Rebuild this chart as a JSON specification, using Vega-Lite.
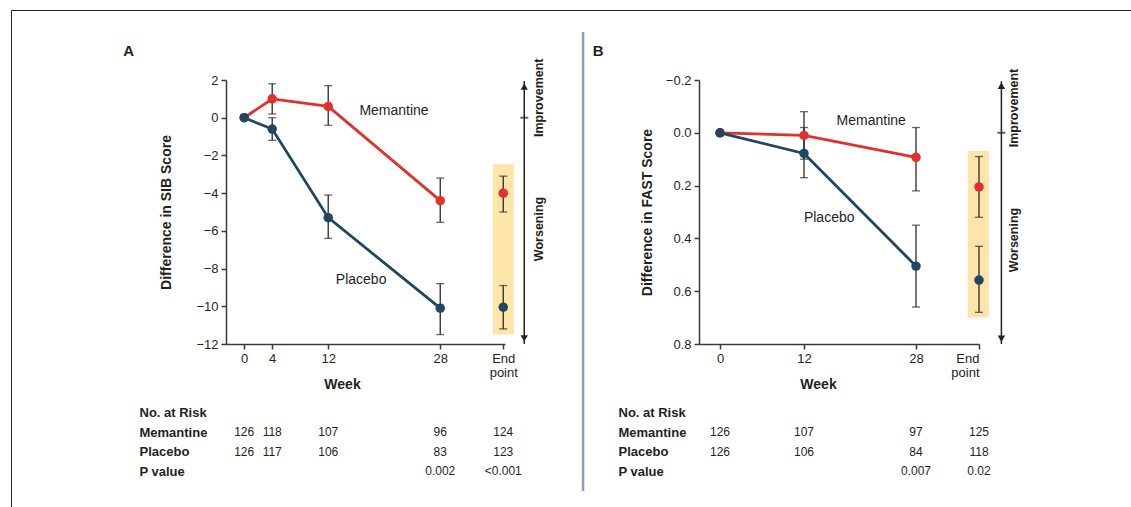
{
  "$schema": "https://vega.github.io/schema/vega-lite/v6.json",
  "padding": {"left": 10, "top": 9, "right": 0, "bottom": 0},
  "autosize": {"type": "pad"},
  "background": "white",
  "bounds": "flush",
  "columns": 2,
  "spacing": {"row": 59, "column": 194},
  "config": {
    "font": "Liberation Sans",
    "view": {"stroke": null},
    "axis": {
      "labelFont": "Liberation Sans", "titleFont": "Liberation Sans",
      "labelColor": "#231f20", "titleColor": "#231f20",
      "domainColor": "#3a3a3a", "tickColor": "#3a3a3a",
      "domainWidth": 1.5, "tickWidth": 1.5, "grid": false, "labelOverlap": false,
      "labelFontSize": 13, "titleFontSize": 14, "titleFontWeight": "bold"
    },
    "text": {"color": "#231f20", "font": "Liberation Sans"}
  },
  "datasets": {
    "seriesA": [
      {"group": "Memantine", "week": 0, "value": 0, "lo": null, "hi": null},
      {"group": "Memantine", "week": 4, "value": 1.0, "lo": 0.2, "hi": 1.8},
      {"group": "Memantine", "week": 12, "value": 0.6, "lo": -0.4, "hi": 1.7},
      {"group": "Memantine", "week": 28, "value": -4.4, "lo": -5.55, "hi": -3.2},
      {"group": "Memantine", "week": 37, "value": -4.0, "lo": -5.0, "hi": -3.1},
      {"group": "Placebo", "week": 0, "value": 0, "lo": null, "hi": null},
      {"group": "Placebo", "week": 4, "value": -0.6, "lo": -1.2, "hi": 0.0},
      {"group": "Placebo", "week": 12, "value": -5.3, "lo": -6.4, "hi": -4.1},
      {"group": "Placebo", "week": 28, "value": -10.1, "lo": -11.5, "hi": -8.8},
      {"group": "Placebo", "week": 37, "value": -10.05, "lo": -11.2, "hi": -8.9}
    ],
    "seriesB": [
      {"group": "Memantine", "week": 0, "value": 0, "lo": null, "hi": null},
      {"group": "Memantine", "week": 12, "value": 0.01, "lo": -0.08, "hi": 0.1},
      {"group": "Memantine", "week": 28, "value": 0.093, "lo": -0.02, "hi": 0.22},
      {"group": "Memantine", "week": 37, "value": 0.205, "lo": 0.09, "hi": 0.32},
      {"group": "Placebo", "week": 0, "value": 0, "lo": null, "hi": null},
      {"group": "Placebo", "week": 12, "value": 0.078, "lo": -0.02, "hi": 0.17},
      {"group": "Placebo", "week": 28, "value": 0.505, "lo": 0.35, "hi": 0.66},
      {"group": "Placebo", "week": 37, "value": 0.558, "lo": 0.43, "hi": 0.68}
    ],
    "tableA": [
      {"row": "Memantine", "week": 0, "text": "126"},
      {"row": "Memantine", "week": 4, "text": "118"},
      {"row": "Memantine", "week": 12, "text": "107"},
      {"row": "Memantine", "week": 28, "text": "96"},
      {"row": "Memantine", "week": 37, "text": "124"},
      {"row": "Placebo", "week": 0, "text": "126"},
      {"row": "Placebo", "week": 4, "text": "117"},
      {"row": "Placebo", "week": 12, "text": "106"},
      {"row": "Placebo", "week": 28, "text": "83"},
      {"row": "Placebo", "week": 37, "text": "123"},
      {"row": "P value", "week": 28, "text": "0.002"},
      {"row": "P value", "week": 37, "text": "<0.001"}
    ],
    "tableB": [
      {"row": "Memantine", "week": 0, "text": "126"},
      {"row": "Memantine", "week": 12, "text": "107"},
      {"row": "Memantine", "week": 28, "text": "97"},
      {"row": "Memantine", "week": 37, "text": "125"},
      {"row": "Placebo", "week": 0, "text": "126"},
      {"row": "Placebo", "week": 12, "text": "106"},
      {"row": "Placebo", "week": 28, "text": "84"},
      {"row": "Placebo", "week": 37, "text": "118"},
      {"row": "P value", "week": 28, "text": "0.007"},
      {"row": "P value", "week": 37, "text": "0.02"}
    ]
  },
  "concat": [
    {
      "width": 279,
      "height": 264,
      "encoding": {
        "x": {"field": "week", "type": "quantitative", "scale": {"domain": [-2.6, 37.25], "nice": false, "zero": false},
          "axis": {"values": [0, 4, 12, 28, 37], "labelExpr": "datum.value > 30 ? ['End', 'point'] : datum.label", "title": "Week", "titleY": 40, "titleX": 116, "titleAlign": "center", "titleBaseline": "middle", "tickSize": 5, "labelPadding": 3, "labelLineHeight": 14}},
        "y": {"field": "value", "type": "quantitative", "scale": {"domain": [-12, 2], "nice": false, "zero": false},
          "axis": {"values": [2, 0, -2, -4, -6, -8, -10, -12], "labelOverlap": false, "title": "Difference in SIB Score", "titlePadding": 22, "tickSize": 5, "labelPadding": 3}}
      },
      "layer": [
        {
          "data": {"values": [
            {"week": -33.24, "week2": 126.83, "value": 5.686, "value2": 5.686},
            {"week": -33.24, "week2": -33.24, "value": 5.686, "value2": -20.7}
          ]},
          "mark": {"type": "rule", "color": "#222222", "strokeWidth": 1, "clip": false},
          "encoding": {"x2": {"field": "week2"}, "y2": {"field": "value2"}}
        },
        {
          "data": {"values": [{"week": 48.4, "week2": 48.4, "value": 4.545, "value2": -19.8}]},
          "mark": {"type": "rule", "color": "#8d9db3", "strokeWidth": 2.5, "clip": false},
          "encoding": {"x2": {"field": "week2"}, "y2": {"field": "value2"}}
        },
        {
          "data": {"values": [{"week": -16.5, "value": 3.54, "label": "A"}]},
          "mark": {"type": "text", "fontSize": 15, "fontWeight": "bold", "align": "center", "baseline": "middle", "clip": false},
          "encoding": {"text": {"field": "label"}}
        },
        {
          "data": {"values": [{"week": 35.5, "week2": 38.5, "value": -2.45, "value2": -11.5}]},
          "mark": {"type": "rect", "color": "#fde1a0", "opacity": 0.9, "clip": false},
          "encoding": {"x2": {"field": "week2"}, "y2": {"field": "value2"}}
        },
        {
          "data": {"values": [{"week": 40.0, "week2": 40.0, "value": 1.95, "value2": -12}]},
          "mark": {"type": "rule", "color": "#222222", "strokeWidth": 1.5, "clip": false},
          "encoding": {"x2": {"field": "week2"}, "y2": {"field": "value2"}}
        },
        {
          "data": {"values": [{"week": 40.0, "value": 1.65, "dir": "up"}, {"week": 40.0, "value": -11.7, "dir": "down"}]},
          "mark": {"type": "point", "filled": true, "size": 55, "color": "#222222", "opacity": 1, "clip": false},
          "encoding": {
            "shape": {"field": "dir", "type": "nominal", "scale": {"domain": ["up", "down"], "range": ["triangle-up", "triangle-down"]}, "legend": null}
          }
        },
        {
          "data": {"values": [{"week": 40.0, "value": 0}]},
          "mark": {"type": "tick", "orient": "horizontal", "size": 8, "thickness": 2, "color": "#222222", "clip": false},
          "encoding": {}
        },
        {
          "data": {"values": [{"week": 42.1, "value": 1.06, "label": "Improvement"}, {"week": 42.1, "value": -5.9, "label": "Worsening"}]},
          "mark": {"type": "text", "angle": 270, "fontSize": 12.5, "fontWeight": "bold", "align": "center", "baseline": "middle", "clip": false},
          "encoding": {"text": {"field": "label"}}
        },
        {
          "data": {"values": [{"week": 21.4, "value": 0.37, "label": "Memantine"}, {"week": 16.7, "value": -8.6, "label": "Placebo"}]},
          "mark": {"type": "text", "fontSize": 14, "align": "center", "baseline": "middle"},
          "encoding": {"text": {"field": "label"}}
        },
        {
          "data": {"name": "seriesA"},
          "transform": [{"filter": "datum.week < 30"}],
          "mark": {"type": "line", "strokeWidth": 2.8},
          "encoding": {
            "color": {"field": "group", "type": "nominal", "scale": {"domain": ["Memantine", "Placebo"], "range": ["#e2312d", "#1f4760"]}, "legend": null}
          }
        },
        {
          "data": {"name": "seriesA"},
          "transform": [{"filter": "datum.lo != null"}],
          "mark": {"type": "rule", "color": "#2a2a2a", "strokeWidth": 1.3},
          "encoding": {
            "y": {"field": "lo", "type": "quantitative"},
            "y2": {"field": "hi"}
          }
        },
        {
          "data": {"name": "seriesA"},
          "transform": [{"filter": "datum.lo != null"}, {"fold": ["lo", "hi"], "as": ["end", "bound"]}],
          "mark": {"type": "tick", "orient": "horizontal", "size": 8, "thickness": 1.3, "color": "#2a2a2a"},
          "encoding": {
            "y": {"field": "bound", "type": "quantitative"}
          }
        },
        {
          "data": {"name": "seriesA"},
          "mark": {"type": "circle", "size": 90, "opacity": 1},
          "encoding": {
            "color": {"field": "group", "type": "nominal", "legend": null},
            "order": {"field": "group", "sort": "ascending"}
          }
        }
      ]
    },
    {
      "width": 280,
      "height": 264,
      "encoding": {
        "x": {"field": "week", "type": "quantitative", "scale": {"domain": [-3, 37], "nice": false, "zero": false},
          "axis": {"values": [0, 12, 28, 37], "labelExpr": "datum.value > 30 ? ['End', 'point'] : datum.label", "title": "Week", "titleY": 40, "titleX": 119, "titleAlign": "center", "titleBaseline": "middle", "tickSize": 5, "labelPadding": 3, "labelLineHeight": 14}},
        "y": {"field": "value", "type": "quantitative", "scale": {"domain": [-0.2, 0.8], "reverse": true, "nice": false, "zero": false},
          "axis": {"values": [-0.2, 0, 0.2, 0.4, 0.6, 0.8], "labelOverlap": false, "format": ".1f", "title": "Difference in FAST Score", "titlePadding": 11, "tickSize": 5, "labelPadding": 3}}
      },
      "layer": [
        {
          "data": {"values": [{"week": 35.4, "week2": 38.4, "value": 0.069, "value2": 0.70}]},
          "mark": {"type": "rect", "color": "#fde1a0", "opacity": 0.9, "clip": false},
          "encoding": {"x2": {"field": "week2"}, "y2": {"field": "value2"}}
        },
        {
          "data": {"values": [{"week": -17.4, "value": -0.31, "label": "B"}]},
          "mark": {"type": "text", "fontSize": 15, "fontWeight": "bold", "align": "center", "baseline": "middle", "clip": false},
          "encoding": {"text": {"field": "label"}}
        },
        {
          "data": {"values": [{"week": 40.2, "week2": 40.2, "value": -0.195, "value2": 0.8}]},
          "mark": {"type": "rule", "color": "#222222", "strokeWidth": 1.5, "clip": false},
          "encoding": {"x2": {"field": "week2"}, "y2": {"field": "value2"}}
        },
        {
          "data": {"values": [{"week": 40.2, "value": -0.178, "dir": "up"}, {"week": 40.2, "value": 0.78, "dir": "down"}]},
          "mark": {"type": "point", "filled": true, "size": 55, "color": "#222222", "opacity": 1, "clip": false},
          "encoding": {
            "shape": {"field": "dir", "type": "nominal", "scale": {"domain": ["up", "down"], "range": ["triangle-up", "triangle-down"]}, "legend": null}
          }
        },
        {
          "data": {"values": [{"week": 40.2, "value": 0}]},
          "mark": {"type": "tick", "orient": "horizontal", "size": 8, "thickness": 2, "color": "#222222", "clip": false},
          "encoding": {}
        },
        {
          "data": {"values": [{"week": 42.0, "value": -0.094, "label": "Improvement"}, {"week": 42.0, "value": 0.406, "label": "Worsening"}]},
          "mark": {"type": "text", "angle": 270, "fontSize": 12.5, "fontWeight": "bold", "align": "center", "baseline": "middle", "clip": false},
          "encoding": {"text": {"field": "label"}}
        },
        {
          "data": {"values": [{"week": 21.6, "value": -0.045, "label": "Memantine"}, {"week": 15.6, "value": 0.323, "label": "Placebo"}]},
          "mark": {"type": "text", "fontSize": 14, "align": "center", "baseline": "middle"},
          "encoding": {"text": {"field": "label"}}
        },
        {
          "data": {"name": "seriesB"},
          "transform": [{"filter": "datum.week < 30"}],
          "mark": {"type": "line", "strokeWidth": 2.8},
          "encoding": {
            "color": {"field": "group", "type": "nominal", "scale": {"domain": ["Memantine", "Placebo"], "range": ["#e2312d", "#1f4760"]}, "legend": null}
          }
        },
        {
          "data": {"name": "seriesB"},
          "transform": [{"filter": "datum.lo != null"}],
          "mark": {"type": "rule", "color": "#2a2a2a", "strokeWidth": 1.3},
          "encoding": {
            "y": {"field": "lo", "type": "quantitative"},
            "y2": {"field": "hi"}
          }
        },
        {
          "data": {"name": "seriesB"},
          "transform": [{"filter": "datum.lo != null"}, {"fold": ["lo", "hi"], "as": ["end", "bound"]}],
          "mark": {"type": "tick", "orient": "horizontal", "size": 8, "thickness": 1.3, "color": "#2a2a2a"},
          "encoding": {
            "y": {"field": "bound", "type": "quantitative"}
          }
        },
        {
          "data": {"name": "seriesB"},
          "mark": {"type": "circle", "size": 90, "opacity": 1},
          "encoding": {
            "color": {"field": "group", "type": "nominal", "legend": null},
            "order": {"field": "group", "sort": "ascending"}
          }
        }
      ]
    },
    {
      "width": 279,
      "height": 78,
      "data": {"name": "tableA"},
      "mark": {"type": "text", "fontSize": 12, "align": "center", "baseline": "middle"},
      "encoding": {
        "x": {"field": "week", "type": "quantitative", "scale": {"domain": [-2.6, 37.25], "nice": false, "zero": false}, "axis": null},
        "y": {"field": "row", "type": "nominal", "scale": {"type": "point", "domain": ["No. at Risk", "Memantine", "Placebo", "P value"], "padding": 0.5},
          "axis": {"title": null, "domain": false, "ticks": false, "labelAlign": "left", "labelPadding": 87, "labelFontSize": 13, "labelFontWeight": "bold", "labelBaseline": "middle"}},
        "text": {"field": "text"}
      }
    },
    {
      "width": 280,
      "height": 78,
      "data": {"name": "tableB"},
      "mark": {"type": "text", "fontSize": 12, "align": "center", "baseline": "middle"},
      "encoding": {
        "x": {"field": "week", "type": "quantitative", "scale": {"domain": [-3, 37], "nice": false, "zero": false}, "axis": null},
        "y": {"field": "row", "type": "nominal", "scale": {"type": "point", "domain": ["No. at Risk", "Memantine", "Placebo", "P value"], "padding": 0.5},
          "axis": {"title": null, "domain": false, "ticks": false, "labelAlign": "left", "labelPadding": 81, "labelFontSize": 13, "labelFontWeight": "bold", "labelBaseline": "middle"}},
        "text": {"field": "text"}
      }
    }
  ]
}
